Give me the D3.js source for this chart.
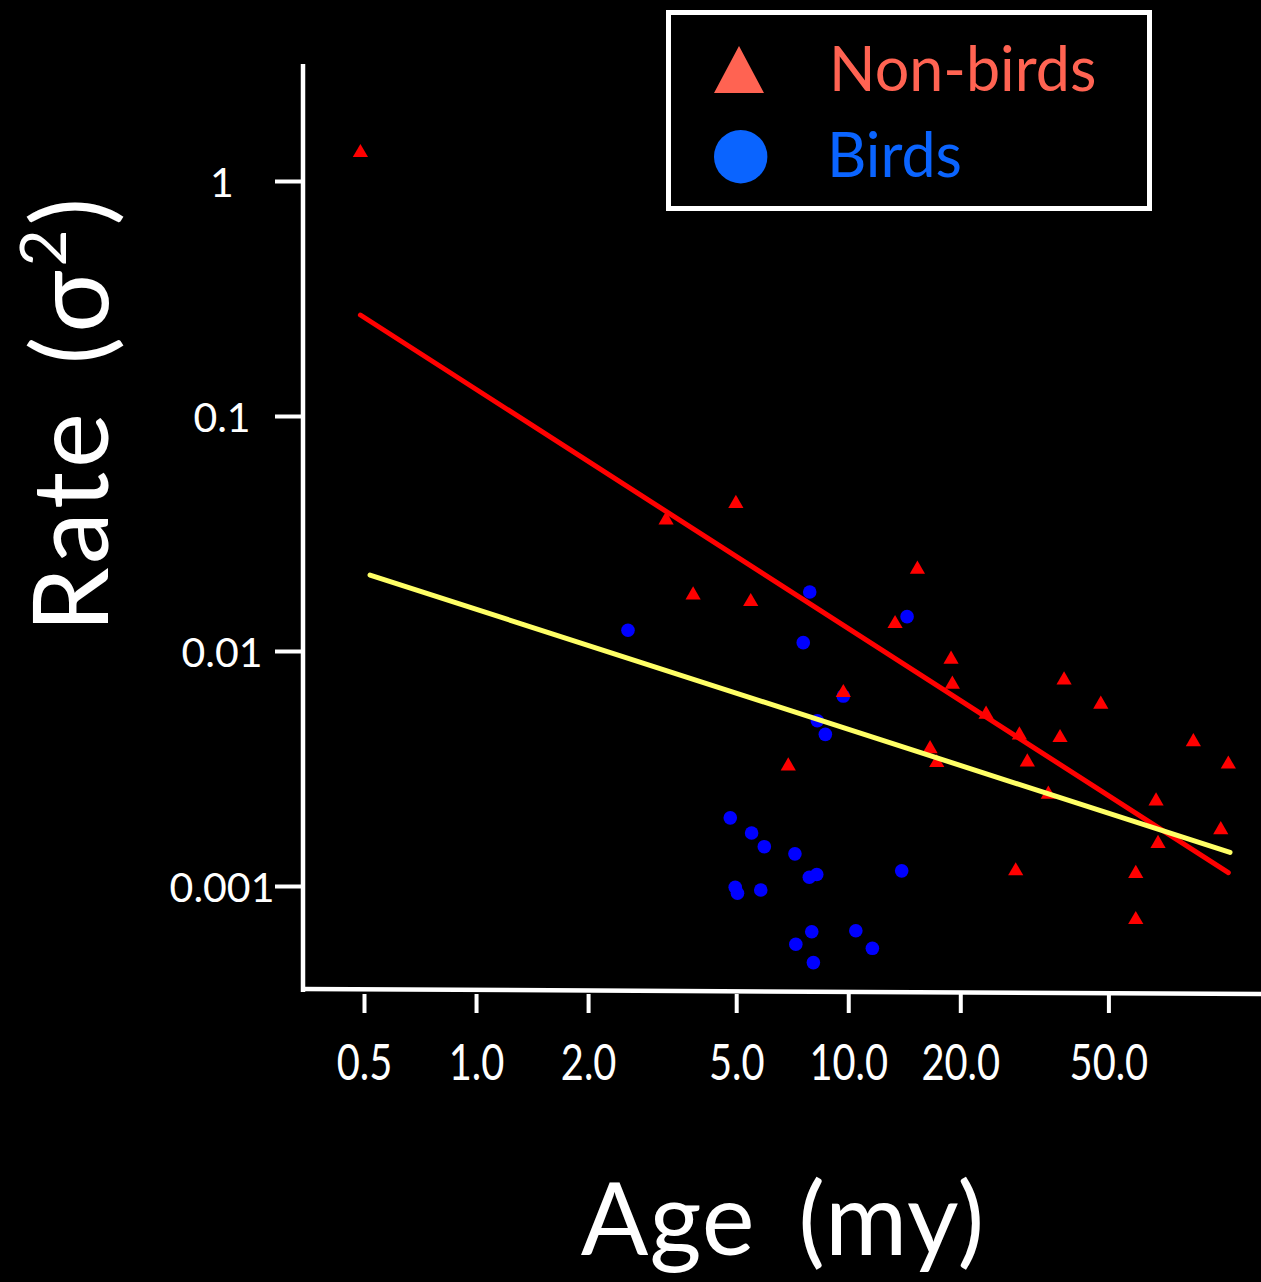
<!DOCTYPE html>
<html>
<head>
<meta charset="utf-8">
<script src="https://cdn.jsdelivr.net/npm/d3@7"></script>
<style>
  html, body { margin: 0; padding: 0; background: #000; }
  svg { display: block; }
  text { font-family: Lato, "Open Sans", sans-serif; fill: #fff; }
</style>
</head>
<body>
<div id="chart"></div>
<script>
// values (age in my, rate sigma^2)
var nonBirdAge  = [0.489, 3.24, 4.99, 3.83, 5.47, 15.34, 13.36, 9.70, 18.89, 19.04, 23.46, 28.83, 16.59, 17.29,
                   30.28, 37.07, 38.01, 47.70, 34.48, 6.90, 28.18, 67.14, 67.97, 84.57, 105.0, 100.2, 59.22, 59.22];
var nonBirdRate = [1.333, 0.0364, 0.0428, 0.01748, 0.01637, 0.02248, 0.01320, 0.00671, 0.00931, 0.00729, 0.00543,
                   0.00443, 0.00387, 0.00338, 0.00340, 0.00432, 0.00760, 0.00599, 0.00248, 0.00327, 0.00117,
                   0.00232, 0.00153, 0.00415, 0.00333, 0.00175, 0.00114, 0.000726];
var birdAge  = [2.56, 7.88, 14.39, 7.57, 9.70, 8.26, 8.68, 4.82, 5.50, 5.95, 7.19, 7.86, 8.23, 13.92, 4.97, 5.04,
                5.82, 7.98, 10.48, 7.23, 11.61, 8.06];
var birdRate = [0.01225, 0.01783, 0.01400, 0.01085, 0.00643, 0.00505, 0.00442, 0.00195, 0.00168, 0.00147, 0.00137,
                0.00109, 0.00112, 0.00116, 0.000988, 0.000931, 0.000962, 0.000639, 0.000645, 0.000565, 0.000543,
                0.000472];

// regression line end points
var nonBirdFitAge  = [0.489, 105.0];
var nonBirdFitRate = [0.269, 0.00114];
var birdFitAge  = [0.519, 106.1];
var birdFitRate = [0.02105, 0.00139];

var xTicks = [0.5, 1, 2, 5, 10, 20, 50];
var xTickLabels = ["0.5", "1.0", "2.0", "5.0", "10.0", "20.0", "50.0"];
var yTicks = [1, 0.1, 0.01, 0.001];
var yTickLabels = ["1", "0.1", "0.01", "0.001"];

var width = 1261, height = 1282;
var axisX = 303, axisY = 991;

var svg = d3.select('#chart').append('svg')
            .attr('width', width).attr('height', height)
            .style('background', '#000');

var x = d3.scaleLog().domain([0.5, 50]).range([364, 1108.4]);
var y = d3.scaleLog().domain([1, 0.001]).range([181, 886]);

// axes lines
svg.append('line').attr('x1', axisX).attr('x2', axisX).attr('y1', 64).attr('y2', axisY + 1)
   .attr('stroke', '#fff').attr('stroke-width', 4.5);
svg.append('line').attr('x1', axisX - 2).attr('x2', width).attr('y1', axisY - 2).attr('y2', axisY + 3)
   .attr('stroke', '#fff').attr('stroke-width', 4.5);

// y axis
var yAxis = svg.append('g').attr('transform', 'translate(' + axisX + ',0)')
  .call(d3.axisLeft(y).tickValues(yTicks).tickSize(28)
        .tickFormat(function(d, i) { return yTickLabels[i]; }));
yAxis.select('.domain').remove();
yAxis.selectAll('.tick line').attr('stroke', '#fff').attr('stroke-width', 4);
yAxis.selectAll('.tick text')
  .attr('x', 222 - axisX).attr('dy', '0.37em')
  .attr('text-anchor', 'middle')
  .style('font-size', '41px').style('font-family', 'Lato, sans-serif').attr('fill', '#fff');

// x axis
var xAxis = svg.append('g').attr('transform', 'translate(0,' + axisY + ')')
  .call(d3.axisBottom(x).tickValues(xTicks).tickSize(22)
        .tickFormat(function(d, i) { return xTickLabels[i]; }));
xAxis.select('.domain').remove();
xAxis.selectAll('.tick line').attr('y1', 3).attr('y2', 22).attr('stroke', '#fff').attr('stroke-width', 4);
xAxis.selectAll('.tick text')
  .attr('y', 89).attr('dy', null)
  .attr('transform', 'scale(0.78,1)')
  .style('font-size', '51px').style('font-family', 'Lato, sans-serif').attr('fill', '#fff');

// fit lines + points (red line under the marks, yellow line over them)
var line = d3.line().x(function(d) { return x(d[0]); }).y(function(d) { return y(d[1]); });
svg.append('path').datum(d3.zip(nonBirdFitAge, nonBirdFitRate))
   .attr('d', line).attr('fill', 'none').attr('stroke', '#ff0000')
   .attr('stroke-width', 5).attr('stroke-linecap', 'round');

svg.append('g').selectAll('circle').data(d3.zip(birdAge, birdRate)).enter()
   .append('circle').attr('cx', function(d) { return x(d[0]); }).attr('cy', function(d) { return y(d[1]); })
   .attr('r', 6.8).attr('fill', '#0000ff');

var tri = d3.symbol().type(d3.symbolTriangle).size(100);
svg.append('g').selectAll('path').data(d3.zip(nonBirdAge, nonBirdRate)).enter()
   .append('path').attr('d', tri)
   .attr('transform', function(d) { return 'translate(' + x(d[0]) + ',' + (y(d[1]) + 1) + ')'; })
   .attr('fill', '#ff0000');

svg.append('path').datum(d3.zip(birdFitAge, birdFitRate))
   .attr('d', line).attr('fill', 'none').attr('stroke', '#ffff66')
   .attr('stroke-width', 5).attr('stroke-linecap', 'round');

// legend
var legend = svg.append('g');
legend.append('rect').attr('x', 668.5).attr('y', 12.5).attr('width', 481).attr('height', 196)
  .attr('fill', '#000').attr('stroke', '#fff').attr('stroke-width', 5);
legend.append('path').attr('d', 'M0,-23.5L25,23.5L-25,23.5Z')
  .attr('transform', 'translate(739,69.5)').attr('fill', '#ff6352');
legend.append('text').attr('x', 829).attr('y', 91).text('Non-birds')
  .style('font-size', '61px').style('fill', '#ff6352');
legend.append('circle').attr('cx', 740.7).attr('cy', 156.7).attr('r', 26.7).attr('fill', '#0a64ff');
legend.append('text').attr('x', 827).attr('y', 177).text('Birds')
  .style('font-size', '61px').style('fill', '#0a64ff');

// axis titles
var rateTitle = svg.append('text').attr('transform', 'translate(108,413) rotate(-90)')
  .attr('text-anchor', 'middle').style('font-size', '104px')
  .style('letter-spacing', '4px').style('word-spacing', '14px');
rateTitle.append('tspan').text('Rate (σ');
rateTitle.append('tspan').attr('dy', -42).style('font-size', '64px').text('2');
rateTitle.append('tspan').attr('dy', 42).text(')');

svg.append('text').attr('x', 783).attr('y', 1255).attr('text-anchor', 'middle')
  .style('font-size', '100px').style('letter-spacing', '1px').style('word-spacing', '16px')
  .text('Age (my)');
</script>
</body>
</html>
